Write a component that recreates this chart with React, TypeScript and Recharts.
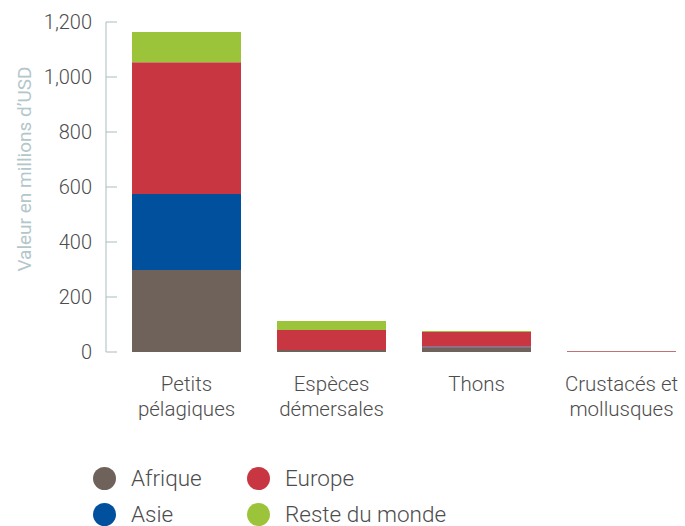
import React from 'react';
import { BarChart, Bar, XAxis, YAxis, Legend } from 'recharts';

const categories = ['Petits pélagiques', 'Espèces démersales', 'Thons', 'Crustacés et mollusques'];
const categoryLines = [['Petits', 'pélagiques'], ['Espèces', 'démersales'], ['Thons'], ['Crustacés et', 'mollusques']];
const afrique = [298, 7, 16, 2];
const asie = [277, 0, 3, 0];
const europe = [479, 73, 54, 2];
const reste = [110, 33, 3, 0];
const yTicks = [0, 200, 400, 600, 800, 1000, 1200];

const seriesNames = ['Afrique', 'Asie', 'Europe', 'Reste du monde'];
const seriesColors = ['#6e625a', '#00509e', '#c83741', '#9bc43a'];

const data = categories.map((c, i) => ({
  name: c,
  afrique: afrique[i],
  asie: asie[i],
  europe: europe[i],
  reste: reste[i],
}));

const FONT = 'Roboto, "Liberation Sans", Arial, sans-serif';
const TEXT = '#4d4d4d';
const AXIS = '#a9bcc0';

const fmt = (v: number) => v.toLocaleString('en-US');

const YTick = (props: any) => {
  const { x, y, payload } = props;
  return (
    <g>
      <text x={x} y={y} dy="0.36em" textAnchor="end" fontSize={20} fontWeight={300} fill={TEXT} fontFamily={FONT}>
        {fmt(payload.value)}
      </text>
      <line x1={x + 14} x2={x + 25} y1={y} y2={y} stroke={AXIS} strokeWidth={1} />
    </g>
  );
};

const XTick = (props: any) => {
  const { x, y, payload } = props;
  const idx = categories.indexOf(payload.value);
  const lines = categoryLines[idx] || [payload.value];
  return (
    <text x={x} y={y} textAnchor="middle" fontSize={20.5} fontWeight={300} fill={TEXT} fontFamily={FONT}>
      {lines.map((l, i) => (
        <tspan key={i} x={x} dy={i === 0 ? 39 : 24.5}>{l}</tspan>
      ))}
    </text>
  );
};

const YLabel = (props: any) => {
  const vb = props.viewBox || {};
  const cx = 24;
  const cy = vb.y + vb.height / 2 - 18;
  return (
    <text x={cx} y={cy} transform={`rotate(-90 ${cx} ${cy})`} textAnchor="middle" dominantBaseline="central" fontSize={19} fontWeight={400} fill="#b3c6ca" fontFamily={FONT}>
      Valeur en millions d’USD
    </text>
  );
};

const LegendContent = (props: any) => {
  const payload = props.payload || [];
  return (
    <div style={{ display: 'grid', gridTemplateRows: '36px 36px', gridAutoFlow: 'column', gridAutoColumns: 'max-content', columnGap: 0, fontFamily: FONT }}>
      {payload.map((p: any, i: number) => (
        <div key={i} style={{ display: 'flex', alignItems: 'center', height: 36, width: i < 2 ? 154 : 260 }}>
          <span style={{ flex: '0 0 23px', width: 23, height: 23, borderRadius: '50%', background: p.color, display: 'inline-block', marginRight: 15 }} />
          <span style={{ fontSize: 22.5, lineHeight: 1, fontWeight: 300, color: TEXT, whiteSpace: 'nowrap' }}>{p.value}</span>
        </div>
      ))}
    </div>
  );
};

export default function App() {
  return (
    <div style={{ position: 'absolute', left: 0, top: 0, width: 685, height: 526, overflow: 'hidden', background: '#fff' }}>
      <BarChart width={694} height={526} data={data} margin={{ top: 22, right: 0, bottom: 114, left: 0 }} barSize={109}>
        <XAxis dataKey="name" axisLine={false} tickLine={false} tickSize={0} tickMargin={0} tick={<XTick />} interval={0} padding={{ left: 8, right: 0 }} height={60} />
        <YAxis
          width={106}
          domain={[0, 1200]}
          ticks={yTicks}
          tickLine={false}
          axisLine={{ stroke: AXIS, strokeWidth: 1 }}
          tickSize={14}
          tickMargin={0}
          tick={<YTick />}
          label={<YLabel />}
          interval={0}
        />
        <Legend
          layout="horizontal"
          verticalAlign="middle"
          align="center"
          wrapperStyle={{ left: 93, top: 460, width: 500 }}
          content={<LegendContent />}
        />
        <Bar dataKey="afrique" name={seriesNames[0]} stackId="a" fill={seriesColors[0]} isAnimationActive={false} />
        <Bar dataKey="asie" name={seriesNames[1]} stackId="a" fill={seriesColors[1]} isAnimationActive={false} />
        <Bar dataKey="europe" name={seriesNames[2]} stackId="a" fill={seriesColors[2]} isAnimationActive={false} />
        <Bar dataKey="reste" name={seriesNames[3]} stackId="a" fill={seriesColors[3]} isAnimationActive={false} />
      </BarChart>
    </div>
  );
}
